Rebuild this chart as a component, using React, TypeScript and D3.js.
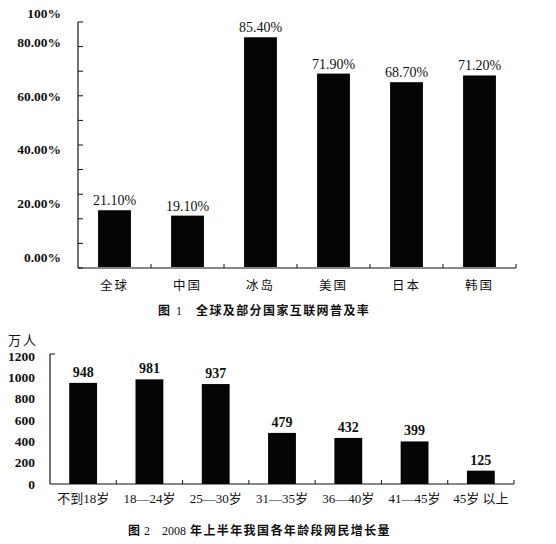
import React from "react"
import { scaleBand, scaleLinear } from "d3"

// figure 1: internet penetration (%)
const countries = ["全球", "中国", "冰岛", "美国", "日本", "韩国"]
const rates = [21.1, 19.1, 85.4, 71.9, 68.7, 71.2]
const rateTicks = [0, 20, 40, 60, 80, 100]
const rateTickLabels = ["0.00%", "20.00%", "40.00%", "60.00%", "80.00%", "100%"]
const rateMinorTicks = [0, 10, 20, 30, 40, 50, 60, 70, 80, 90, 100]

// figure 2: netizen growth by age group (万人)
const ages = ["不到18岁", "18—24岁", "25—30岁", "31—35岁", "36—40岁", "41—45岁", "45岁 以上"]
const growth = [948, 981, 937, 479, 432, 399, 125]
const growthTicks = [0, 200, 400, 600, 800, 1000, 1200]

const caption1 = "全球及部分国家互联网普及率"
const caption2 = "年上半年我国各年龄段网民增长量"

const serif = "'Liberation Serif', 'DejaVu Serif', 'Noto Sans CJK SC', serif"
const cjk = "'Noto Sans CJK SC', sans-serif"
const ink = "#111"

const App = () => {
  // 1. scales for figure 1
  const x1 = scaleBand<string>()
    .domain(countries)
    .range([78, 516])
    .paddingInner(0.55)
    .paddingOuter(0.275)
  const y1 = scaleLinear().domain([0, 100]).range([267, -2])
  const yTick1 = scaleLinear().domain([0, 100]).range([268, 22])
  const base1 = yTick1(0)

  // 2. scales for figure 2
  const x2 = scaleBand<string>()
    .domain(ages)
    .range([50, 514])
    .paddingInner(0.58)
    .paddingOuter(0.29)
  const y2 = scaleLinear().domain([0, 1200]).range([484, 356])
  const base2 = y2(0)

  return (
    <svg
      width={556}
      height={544}
      style={{ position: "absolute", left: 0, top: 0, background: "#fff" }}
    >
      {/* figure 1 */}
      <g>
        {countries.map((c, i) => (
          <rect
            key={c}
            x={x1(c)}
            y={y1(rates[i])}
            width={x1.bandwidth()}
            height={y1(0) - y1(rates[i])}
            fill="#050505"
          />
        ))}
        {countries.map((c, i) => (
          <text
            key={c + "v"}
            x={(x1(c) ?? 0) + x1.bandwidth() / 2}
            y={y1(rates[i]) - 5}
            textAnchor="middle"
            fontFamily={serif}
            fontSize={14}
            fill={ink}
          >
            {rates[i].toFixed(2) + "%"}
          </text>
        ))}
        {/* axes */}
        <line x1={78} x2={78} y1={yTick1(100)} y2={base1} stroke={ink} strokeWidth={1.2} />
        <line x1={78} x2={516} y1={base1} y2={base1} stroke={ink} strokeWidth={1.2} />
        {rateMinorTicks.map((t) => (
          <line key={t} x1={78} x2={83} y1={yTick1(t)} y2={yTick1(t)} stroke={ink} strokeWidth={1} />
        ))}
        {countries.slice(1).map((c) => (
          <line
            key={c + "t"}
            x1={(x1(c) ?? 0) - (x1.step() - x1.bandwidth()) / 2}
            x2={(x1(c) ?? 0) - (x1.step() - x1.bandwidth()) / 2}
            y1={base1}
            y2={base1 - 4}
            stroke={ink}
          />
        ))}
        <line x1={516} x2={516} y1={base1} y2={base1 - 4} stroke={ink} />
        {rateTicks.map((t, i) => (
          <text
            key={t}
            x={61}
            y={t === 100 ? yTick1(100) - 4 : y1(t) - 5}
            textAnchor="end"
            fontFamily={serif}
            fontWeight="bold"
            fontSize={13.5}
            fill={ink}
          >
            {rateTickLabels[i]}
          </text>
        ))}
        {countries.map((c) => (
          <text
            key={c + "l"}
            x={(x1(c) ?? 0) + x1.bandwidth() / 2}
            y={290}
            textAnchor="middle"
            fontFamily={cjk}
            fontSize={12.5}
            letterSpacing={2}
            fill={ink}
          >
            {c}
          </text>
        ))}
        <text x={158} y={315} fontFamily={cjk} fontWeight="bold" fontSize={12} fill={ink}>
          图
          <tspan fontFamily={serif} fontWeight="normal" dx={6}>1</tspan>
          <tspan dx={14} letterSpacing={1.4}>{caption1}</tspan>
        </text>
      </g>

      {/* figure 2 */}
      <g>
        <text x={8} y={345} fontFamily={cjk} fontSize={13} letterSpacing={2} fill={ink}>
          万人
        </text>
        {ages.map((a, i) => (
          <rect
            key={a}
            x={x2(a)}
            y={y2(growth[i])}
            width={x2.bandwidth()}
            height={base2 - y2(growth[i])}
            fill="#050505"
          />
        ))}
        {ages.map((a, i) => (
          <text
            key={a + "v"}
            x={(x2(a) ?? 0) + x2.bandwidth() / 2}
            y={y2(growth[i]) - 6}
            textAnchor="middle"
            fontFamily={serif}
            fontSize={14}
            fontWeight="bold"
            fill={ink}
          >
            {growth[i]}
          </text>
        ))}
        <line x1={50} x2={50} y1={354} y2={base2} stroke={ink} strokeWidth={1.2} />
        <line x1={50} x2={55} y1={354} y2={354} stroke={ink} strokeWidth={1} />
        <line x1={50} x2={514} y1={base2} y2={base2} stroke={ink} strokeWidth={1.2} />
        {ages.slice(1).map((a) => (
          <line
            key={a + "t"}
            x1={(x2(a) ?? 0) - (x2.step() - x2.bandwidth()) / 2}
            x2={(x2(a) ?? 0) - (x2.step() - x2.bandwidth()) / 2}
            y1={base2}
            y2={base2 - 4}
            stroke={ink}
          />
        ))}
        <line x1={514} x2={514} y1={base2} y2={base2 - 4} stroke={ink} />
        {growthTicks.map((t) => (
          <text
            key={t}
            x={35}
            y={y2(t) + 4.5}
            textAnchor="end"
            fontFamily={serif}
            fontWeight="bold"
            fontSize={13.5}
            fill={ink}
          >
            {t}
          </text>
        ))}
        {ages.map((a) => (
          <text
            key={a + "l"}
            x={(x2(a) ?? 0) + x2.bandwidth() / 2}
            y={503}
            textAnchor="middle"
            fontFamily={serif}
            fontSize={13}
            fill={ink}
          >
            {a}
          </text>
        ))}
        <text x={128} y={535} fontFamily={cjk} fontWeight="bold" fontSize={12} fill={ink}>
          图
          <tspan fontFamily={serif} fontWeight="normal" dx={4}>2</tspan>
          <tspan fontFamily={serif} fontWeight="normal" dx={12}>2008</tspan>
          <tspan dx={4} letterSpacing={1.4}>{caption2}</tspan>
        </text>
      </g>
    </svg>
  )
}

export default App
